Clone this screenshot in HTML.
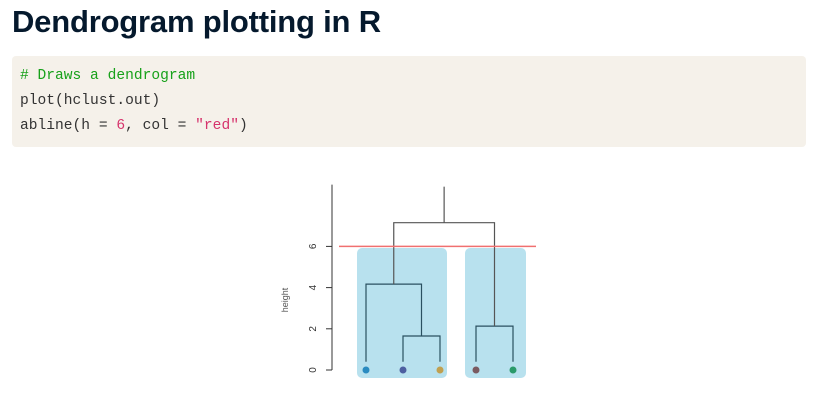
<!DOCTYPE html>
<html><head><meta charset="utf-8"><style>
body{margin:0;width:826px;height:409px;background:#fff;position:relative;overflow:hidden;font-family:"Liberation Sans",sans-serif}
h1{position:absolute;left:12px;top:4px;margin:0;font-size:31px;font-weight:bold;color:#05192d;letter-spacing:-0.2px}
.code{position:absolute;left:12px;top:56px;width:794px;height:91px;background:#f5f1ea;border-radius:4px;font-family:"Liberation Mono",monospace;font-size:14.6px;color:#333}
.code div{position:absolute;left:8px}
</style></head><body>
<h1>Dendrogram plotting in R</h1>
<div class="code">
<div style="top:12px;color:#17a11a"># Draws a dendrogram</div>
<div style="top:37px">plot(hclust.out)</div>
<div style="top:62px">abline(h = <span style="color:#d6336c">6</span>, col = <span style="color:#d6336c">"red"</span>)</div>
</div>
<svg id="chart" width="826" height="409" style="position:absolute;left:0;top:0"></svg>
<script>
const leafColors=["#2a8bc0","#4d5fa0","#c0a050","#7a5a60","#2a9a6a"];
const yTicks=[0,2,4,6];
const merges=[[0.4,0.4,1.65],[0.4,1.65,4.17],[0.4,0.4,2.13],[4.17,2.13,7.15]];
const cutHeight=6;
const axisTop=9;
const ns="http://www.w3.org/2000/svg";
const svg=document.getElementById('chart');
const y=h=>370-20.6*h;
const xs=[366,403,440,476,513];
function mk(t,a){const e=document.createElementNS(ns,t);for(const k in a)e.setAttribute(k,a[k]);svg.appendChild(e);return e;}
let b=mk('rect',{x:357,y:248,width:90,height:130,rx:5,fill:"#b8e1ee"});

b=mk('rect',{x:465,y:248,width:61,height:130,rx:5,fill:"#b8e1ee"});

let ax=mk('line',{x1:332,x2:332,y1:y(axisTop),y2:y(0),stroke:"#333"});

yTicks.forEach(t=>{
 let l=mk('line',{x1:326,x2:332,y1:y(t),y2:y(t),stroke:"#333"});
 
 let tx=mk('text',{x:0,y:0,transform:`translate(316,${y(t)}) rotate(-90)`,"text-anchor":"middle","font-size":10,fill:"#333"});
 tx.textContent=t;
});
let yt=mk('text',{transform:"translate(288,300) rotate(-90)","text-anchor":"middle","font-size":9,fill:"#555"});
yt.textContent="height";
const nodes=[{x:(xs[1]+xs[2])/2},{x:(xs[0]+(xs[1]+xs[2])/2)/2},{x:(xs[3]+xs[4])/2}];
const pairs=[[xs[1],xs[2]],[xs[0],nodes[0].x],[xs[3],xs[4]],[nodes[1].x,nodes[2].x]];
merges.forEach((m,i)=>{
 const [xa,xb]=pairs[i];
 const p=mk('path',{d:`M${xa},${y(m[0])}V${y(m[2])}H${xb}V${y(m[1])}`,fill:"none",stroke:i==3?"#555":"#2a5060","stroke-width":1.2});
 
});
const rx=(nodes[1].x+nodes[2].x)/2;
let r=mk('line',{x1:rx,x2:rx,y1:y(merges[3][2]),y2:y(axisTop-0.1),stroke:"#555","stroke-width":1.2});

let cl=mk('line',{x1:339,x2:536,y1:y(cutHeight),y2:y(cutHeight),stroke:"#f07070","stroke-width":1.5});

leafColors.forEach((c,i)=>{
 const d=mk('circle',{cx:xs[i],cy:y(0),r:3.5,fill:c});
 
});
</script>
</body></html>
